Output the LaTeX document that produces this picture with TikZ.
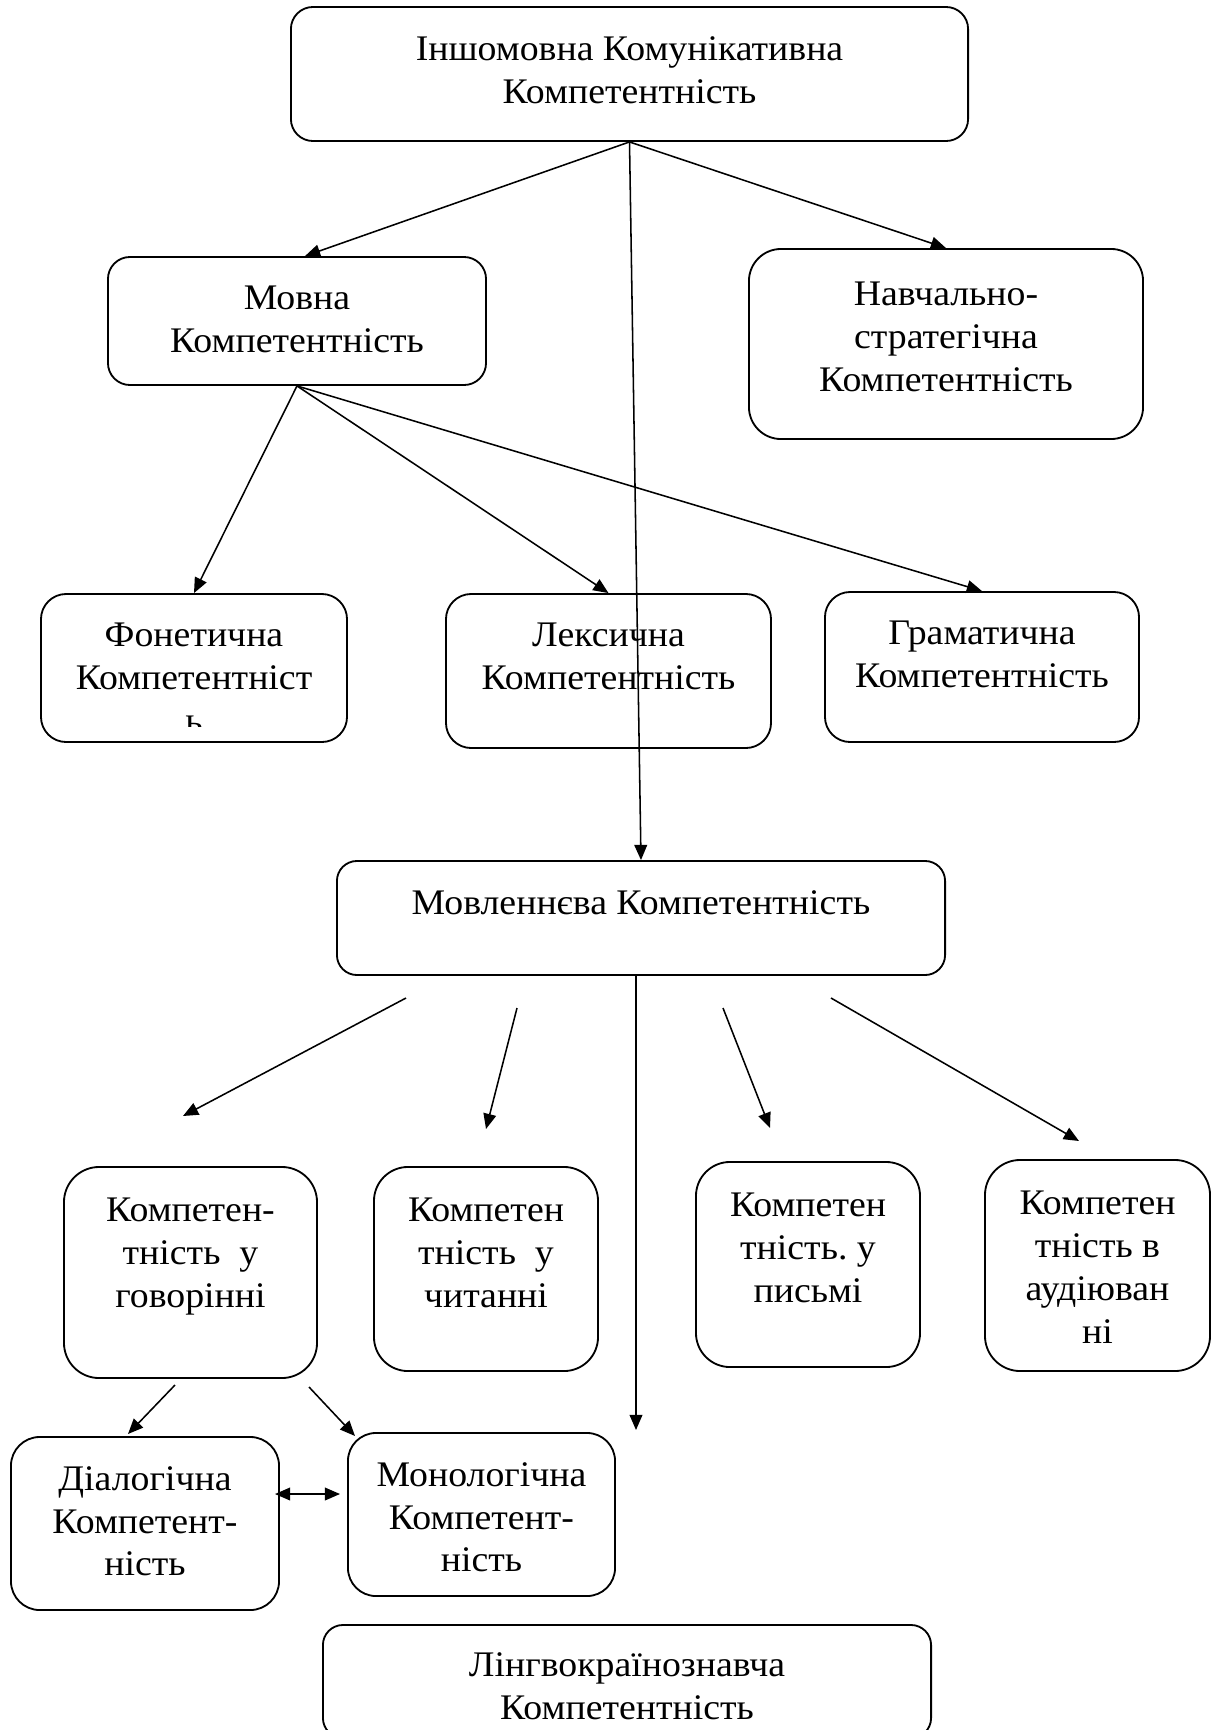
\documentclass[tikz,border=0pt]{standalone}
\usepackage{fontspec}
\setmainfont{Liberation Serif}[FakeStretch=1.05]
\usetikzlibrary{arrows.meta, positioning}

\tikzset{
  box/.style={draw, line width=1.3pt, rounded corners=#1},
  box/.default=0.55cm,
  txt/.style={align=center, inner sep=0pt},
  arr/.style={line width=1.1pt, -{Triangle[length=0.38cm, width=0.32cm]}},
  dbl/.style={line width=1.1pt, {Triangle[length=0.38cm, width=0.32cm]}-{Triangle[length=0.38cm, width=0.32cm]}}
}

\begin{document}
\begin{tikzpicture}[x=0.025cm, y=-0.025cm, font=\fontsize{25.6}{30.5}\selectfont]
  \useasboundingbox (0,0) rectangle (1212,1730);

  % frames
  \node[box, minimum width=16.925cm, minimum height=3.35cm] (top) at (629.5,74) {};
  \node[box, minimum width=9.45cm, minimum height=3.2cm] (mova) at (297,321) {};
  \node[box=0.8cm, minimum width=9.85cm, minimum height=4.75cm] (navch) at (946,344) {};
  \node[box=0.63cm, minimum width=7.65cm, minimum height=3.7cm] (fon) at (194,668) {};
  \node[box=0.63cm, minimum width=8.125cm, minimum height=3.85cm] (lex) at (608.5,671) {};
  \node[box=0.63cm, minimum width=7.85cm, minimum height=3.75cm] (gram) at (982,667) {};
  \node[box=0.5cm, minimum width=15.2cm, minimum height=2.85cm] (movl) at (641,918) {};
  \node[box=0.88cm, minimum width=6.325cm, minimum height=5.275cm] (gov) at (190.5,1272.5) {};
  \node[box=0.85cm, minimum width=5.6cm, minimum height=5.1cm] (chyt) at (486,1269) {};
  \node[box=0.85cm, minimum width=5.6cm, minimum height=5.125cm] (pys) at (808,1264.5) {};
  \node[box=0.88cm, minimum width=5.625cm, minimum height=5.275cm] (aud) at (1097.5,1265.5) {};
  \node[box=0.72cm, minimum width=6.7cm, minimum height=4.325cm] (dial) at (145,1523.5) {};
  \node[box=0.7cm, minimum width=6.675cm, minimum height=4.075cm] (mono) at (481.5,1514.5) {};
  \node[box=0.5cm, minimum width=15.2cm, minimum height=2.825cm] (ling) at (627,1681.5) {};

  % texts, top aligned
  \node[txt, below=0.75cm of top.north] (topt) {Іншомовна Комунікативна\\Компетентність};
  \node[txt, below=0.75cm of mova.north] (movat) {Мовна\\Компетентність};
  \node[txt, below=0.85cm of navch.north] (navcht) {Навчально-\\стратегічна\\Компетентність};
  \begin{scope}
    \clip (fon.north west) rectangle ([yshift=0.4cm]fon.south east);
    \node[txt, below=0.75cm of fon.north] (font) {Фонетична\\Компетентніст\\ь};
  \end{scope}
  \node[txt, below=0.75cm of lex.north] (lext) {Лексична\\Компетентність};
  \node[txt, below=0.75cm of gram.north] (gramt) {Граматична\\Компетентність};
  \node[txt, below=0.75cm of movl.north] (movlt) {Мовленнєва Компетентність};
  \node[txt, below=0.8cm of gov.north] (govt) {Компетен-\\тність\ \ у\\говорінні};
  \node[txt, below=0.8cm of chyt.north] (chytt) {Компетен\\тність\ \ у\\читанні};
  \node[txt, below=0.8cm of pys.north] (pyst) {Компетен\\тність.\ у\\письмі};
  \node[txt, below=0.8cm of aud.north] (audt) {Компетен\\тність в\\аудіюван\\ні};
  \node[txt, below=0.75cm of dial.north] (dialt) {Діалогічна\\Компетент-\\ність};
  \node[txt, below=0.75cm of mono.north] (monot) {Монологічна\\Компетент-\\ність};
  \node[txt, below=0.7cm of ling.north] (lingt) {Лінгвокраїнознавча\\Компетентність};

  % free ends
  \coordinate (down) at (636,1430);
  \coordinate (s1) at (406,998);  \coordinate (e1) at (183,1116);
  \coordinate (s2) at (517,1008); \coordinate (e2) at (486,1129);
  \coordinate (s3) at (723,1008); \coordinate (e3) at (770,1128);
  \coordinate (s4) at (831,998);  \coordinate (e4) at (1079,1141);
  \coordinate (s5) at (175,1385); \coordinate (e5) at (128,1434);
  \coordinate (s6) at (309,1387); \coordinate (e6) at (355,1436);
  \coordinate (dl) at (275,1494); \coordinate (dr) at (340,1494);

  \draw[arr] (top.south) -- ([xshift=0.2cm]mova.north);
  \draw[arr] (top.south) -- (navch.north);
  \draw[arr] (top.south) -- (movl.north);
  \draw[arr] (mova.south) -- (fon.north);
  \draw[arr] (mova.south) -- (lex.north);
  \draw[arr] (mova.south) -- (gram.north);
  \draw[arr] ([xshift=-0.125cm]movl.south) -- (down);
  \draw[arr] (s1) -- (e1);
  \draw[arr] (s2) -- (e2);
  \draw[arr] (s3) -- (e3);
  \draw[arr] (s4) -- (e4);
  \draw[arr] (s5) -- (e5);
  \draw[arr] (s6) -- (e6);
  \draw[dbl] (dl) -- (dr);
\end{tikzpicture}
\end{document}
